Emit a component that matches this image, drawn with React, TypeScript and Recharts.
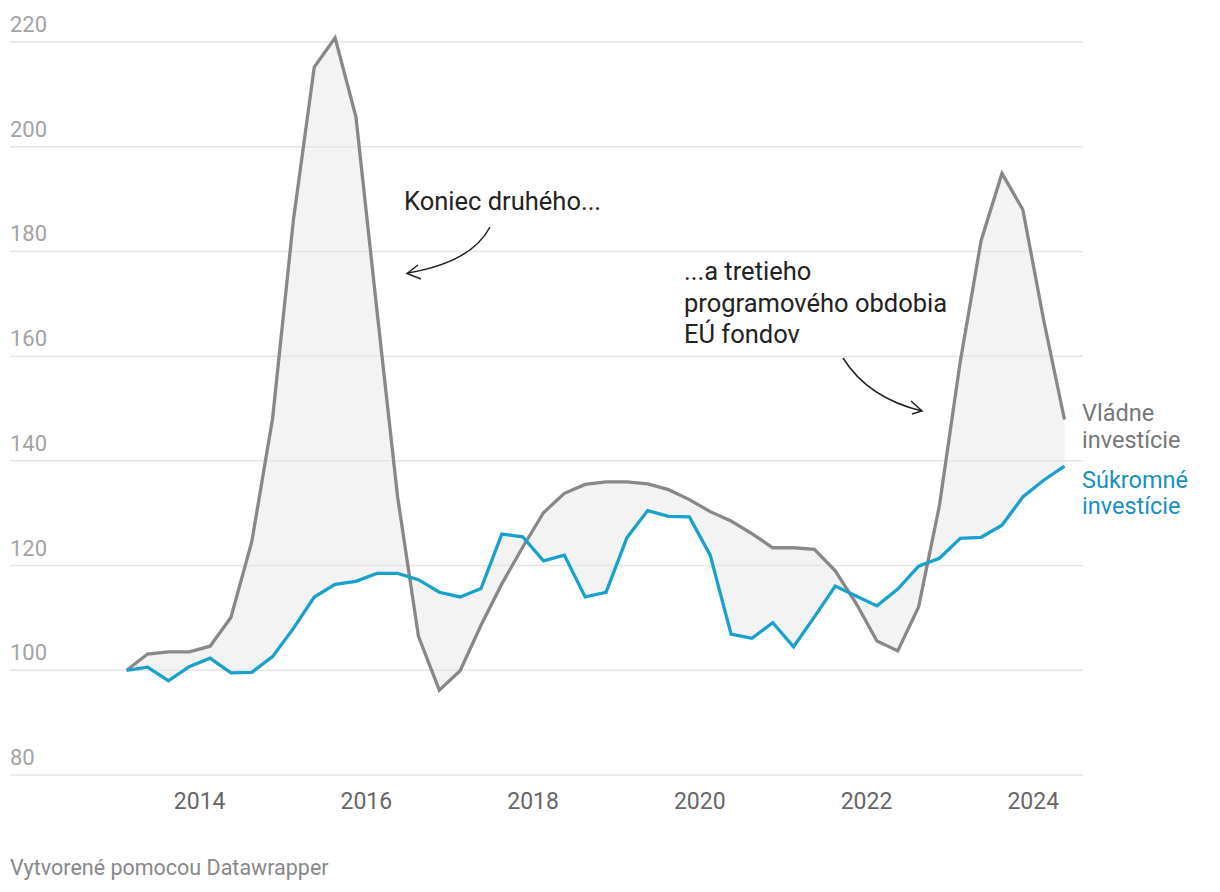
import React from "react";
import {
  ComposedChart,
  Area,
  Line,
  XAxis,
  YAxis,
  ReferenceLine,
} from "recharts";

// quarterly index, 2013 Q1 = 100
const quarters = [
  "2013-Q1", "2013-Q2", "2013-Q3", "2013-Q4",
  "2014-Q1", "2014-Q2", "2014-Q3", "2014-Q4",
  "2015-Q1", "2015-Q2", "2015-Q3", "2015-Q4",
  "2016-Q1", "2016-Q2", "2016-Q3", "2016-Q4",
  "2017-Q1", "2017-Q2", "2017-Q3", "2017-Q4",
  "2018-Q1", "2018-Q2", "2018-Q3", "2018-Q4",
  "2019-Q1", "2019-Q2", "2019-Q3", "2019-Q4",
  "2020-Q1", "2020-Q2", "2020-Q3", "2020-Q4",
  "2021-Q1", "2021-Q2", "2021-Q3", "2021-Q4",
  "2022-Q1", "2022-Q2", "2022-Q3", "2022-Q4",
  "2023-Q1", "2023-Q2", "2023-Q3", "2023-Q4",
  "2024-Q1", "2024-Q2",
];

const government = [
  100, 103.1, 103.5, 103.5, 104.6, 110.1, 124.5, 148.1,
  186, 215.2, 220.8, 205.7, 169, 133.1, 106.5, 96.2,
  99.9, 108.6, 116.5, 123.5, 130.1, 133.8, 135.5, 136,
  136, 135.6, 134.5, 132.6, 130.3, 128.5, 126.1, 123.4,
  123.4, 123.1, 119, 112.8, 105.6, 103.7, 112.1, 131.5,
  159, 182.1, 194.9, 188, 166.9, 147.9,
];

const privateInv = [
  100, 100.6, 98, 100.7, 102.3, 99.5, 99.6, 102.6,
  108, 114, 116.4, 117, 118.5, 118.5, 117.3, 114.9,
  114, 115.6, 126, 125.5, 120.9, 122, 114, 114.9,
  125.3, 130.5, 129.4, 129.3, 122, 106.9, 106.1, 109.1,
  104.5, 110.2, 116.1, 114.2, 112.3, 115.5, 119.9, 121.4,
  125.2, 125.4, 127.7, 133.1, 136.3, 139,
];

const yTicks = [80, 100, 120, 140, 160, 180, 200, 220];
const xTicks = [2014, 2016, 2018, 2020, 2022, 2024];

const GRAY = "#888888";
const BLUE = "#18a1cd";
const FONT = "Roboto, sans-serif";

const data = quarters.map((q, i) => {
  const [y, qq] = q.split("-Q");
  return {
    t: Number(y) + (Number(qq) - 1) / 4 + 0.125,
    gov: government[i],
    priv: privateInv[i],
  };
});

const renderYTick = (props: any) => (
  <text key={props.payload.value} x={10} y={props.y - 10} fill="#a3a3a3" fontSize={22} fontFamily={FONT}>
    {props.payload.value}
  </text>
);

const renderXTick = (props: any) => (
  <text key={props.payload.value} x={props.x} y={809} fill="#666" fontSize={23} fontFamily={FONT} textAnchor="middle">
    {props.payload.value}
  </text>
);

export default function App() {
  return (
    <div style={{ position: "absolute", left: 0, top: 0, width: 1220, height: 892, background: "#fff" }}>
      <ComposedChart
        width={1220}
        height={892}
        data={data}
        margin={{ top: 31.5, right: 137, bottom: 77, left: 9 }}
      >
        <XAxis
          dataKey="t"
          type="number"
          domain={[2011.725, 2024.597]}
          ticks={xTicks}
          axisLine={false}
          tickLine={false}
          height={40}
          tick={renderXTick}
        />
        <YAxis
          type="number"
          domain={[80, 222]}
          ticks={yTicks}
          interval={0}
          width={1}
          axisLine={false}
          tickLine={false}
          tick={renderYTick}
        />
        {yTicks.map((v) => (
          <ReferenceLine key={v} y={v} stroke="#e5e5e5" strokeWidth={1.5} />
        ))}
        <Area
          dataKey={(d: any) => [d.priv, d.gov]}
          type="linear"
          fill="#f3f3f3"
          fillOpacity={1}
          stroke="none"
          isAnimationActive={false}
        />
        <Line dataKey="gov" type="linear" stroke={GRAY} strokeWidth={3.3} dot={false} isAnimationActive={false} />
        <Line dataKey="priv" type="linear" stroke={BLUE} strokeWidth={3.3} dot={false} isAnimationActive={false} />
      </ComposedChart>

      <svg
        width={1220}
        height={892}
        style={{ position: "absolute", left: 0, top: 0, pointerEvents: "none" }}
        fontFamily={FONT}
      >
        <text x={404} y={210} fontSize={25.5} fill="#222">Koniec druhého...</text>
        <path d="M490,227 Q472,262 408,273" fill="none" stroke="#222" strokeWidth={1.5} />
        <path d="M418,265 L407,273.5 L421,279" fill="none" stroke="#222" strokeWidth={1.5} />

        <text fontSize={25.5} fill="#222">
          <tspan x={684} y={280}>...a tretieho</tspan>
          <tspan x={684} y={312}>programového obdobia</tspan>
          <tspan x={684} y={343}>EÚ fondov</tspan>
        </text>
        <path d="M843,358 Q868,398 922,411" fill="none" stroke="#222" strokeWidth={1.5} />
        <path d="M911,401 L922,411 L912,414" fill="none" stroke="#222" strokeWidth={1.5} />

        <text fontSize={23.5} fill="#777">
          <tspan x={1082} y={421}>Vládne</tspan>
          <tspan x={1082} y={448}>investície</tspan>
        </text>
        <text fontSize={23.5} fill="#1790bd">
          <tspan x={1082} y={488}>Súkromné</tspan>
          <tspan x={1082} y={514}>investície</tspan>
        </text>

        <text x={10} y={875} fontSize={21.5} fill="#888">Vytvorené pomocou Datawrapper</text>
      </svg>
    </div>
  );
}
